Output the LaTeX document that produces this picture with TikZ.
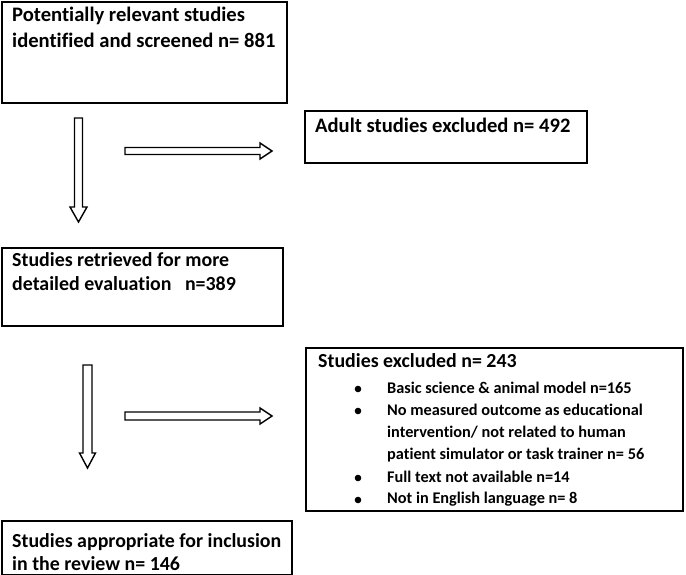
\documentclass[tikz,border=0pt]{standalone}
\usepackage{fontspec}
\setmainfont{Carlito}[Ligatures=NoCommon]
\begin{document}
\begin{tikzpicture}[x=1pt,y=-1pt,
  box/.style={draw=black,line width=1.6pt},
  txtb/.style={anchor=base west,inner sep=0pt,font=\fontsize{20.6}{24}\selectfont\bfseries},
  txt/.style={anchor=base west,inner sep=0pt,font=\fontsize{19.9}{23}\selectfont\bfseries},
  btxt/.style={anchor=base west,inner sep=0pt,font=\fontsize{16.3}{19}\selectfont\bfseries},
  barrow/.style={draw=black,line width=1.4pt,fill=white,line join=miter}]
\useasboundingbox (0,0) rectangle (686,574);
% boxes
\draw[box] (2,2) rectangle (287,103);
\draw[box] (305,111) rectangle (587,163);
\draw[box] (2,248) rectangle (283,326);
\draw[box] (306,348) rectangle (683,511);
\draw[box] (2,521) rectangle (292,575);
% texts
\node[txtb] (t1a) at (12,21) {Potentially relevant studies};
\node[txtb] (t1b) at (12,47) {identified and screened n= 881};
\node[txtb] (t2) at (315,132) {Adult studies excluded n= 492};
\node[txt] (t3a) at (12,266) {Studies retrieved for more};
\node[txt] (t3b) at (12,290) {detailed evaluation\ \ \ n=389};
\node[txt] (t4) at (318,367) {Studies excluded n= 243};
\node[btxt] (b1) at (387,393) {Basic science \& animal model n=165};
\node[btxt] (b2) at (387,415) {No measured outcome as educational};
\node[btxt] (b2b) at (387,437) {intervention/ not related to human};
\node[btxt] (b2c) at (387,459) {patient simulator or task trainer n= 56};
\node[btxt] (b3) at (387,482) {Full text not available n=14};
\node[btxt] (b4) at (387,503) {Not in English language n= 8};
\foreach \n/\y in {p1/389, p2/411, p3/478, p4/500}
  \fill (358,\y) circle (3.3pt) coordinate (\n);
\node[txt] (t5a) at (12,547) {Studies appropriate for inclusion};
\node[txt] (t5b) at (12,570) {in the review n= 146};
% block arrows
\draw[barrow] (74.5,118) -- (82.5,118) -- (82.5,207) -- (87,207) -- (78.5,222) -- (70,207) -- (74.5,207) -- cycle;
\draw[barrow] (125,147.5) -- (260,147.5) -- (260,143) -- (272,151) -- (260,159) -- (260,154.5) -- (125,154.5) -- cycle;
\draw[barrow] (83,365) -- (92,365) -- (92,453) -- (95.5,453) -- (87.5,468) -- (79.5,453) -- (83,453) -- cycle;
\draw[barrow] (125,412) -- (260,412) -- (260,408) -- (272,416) -- (260,424) -- (260,420) -- (125,420) -- cycle;
\end{tikzpicture}
\end{document}
